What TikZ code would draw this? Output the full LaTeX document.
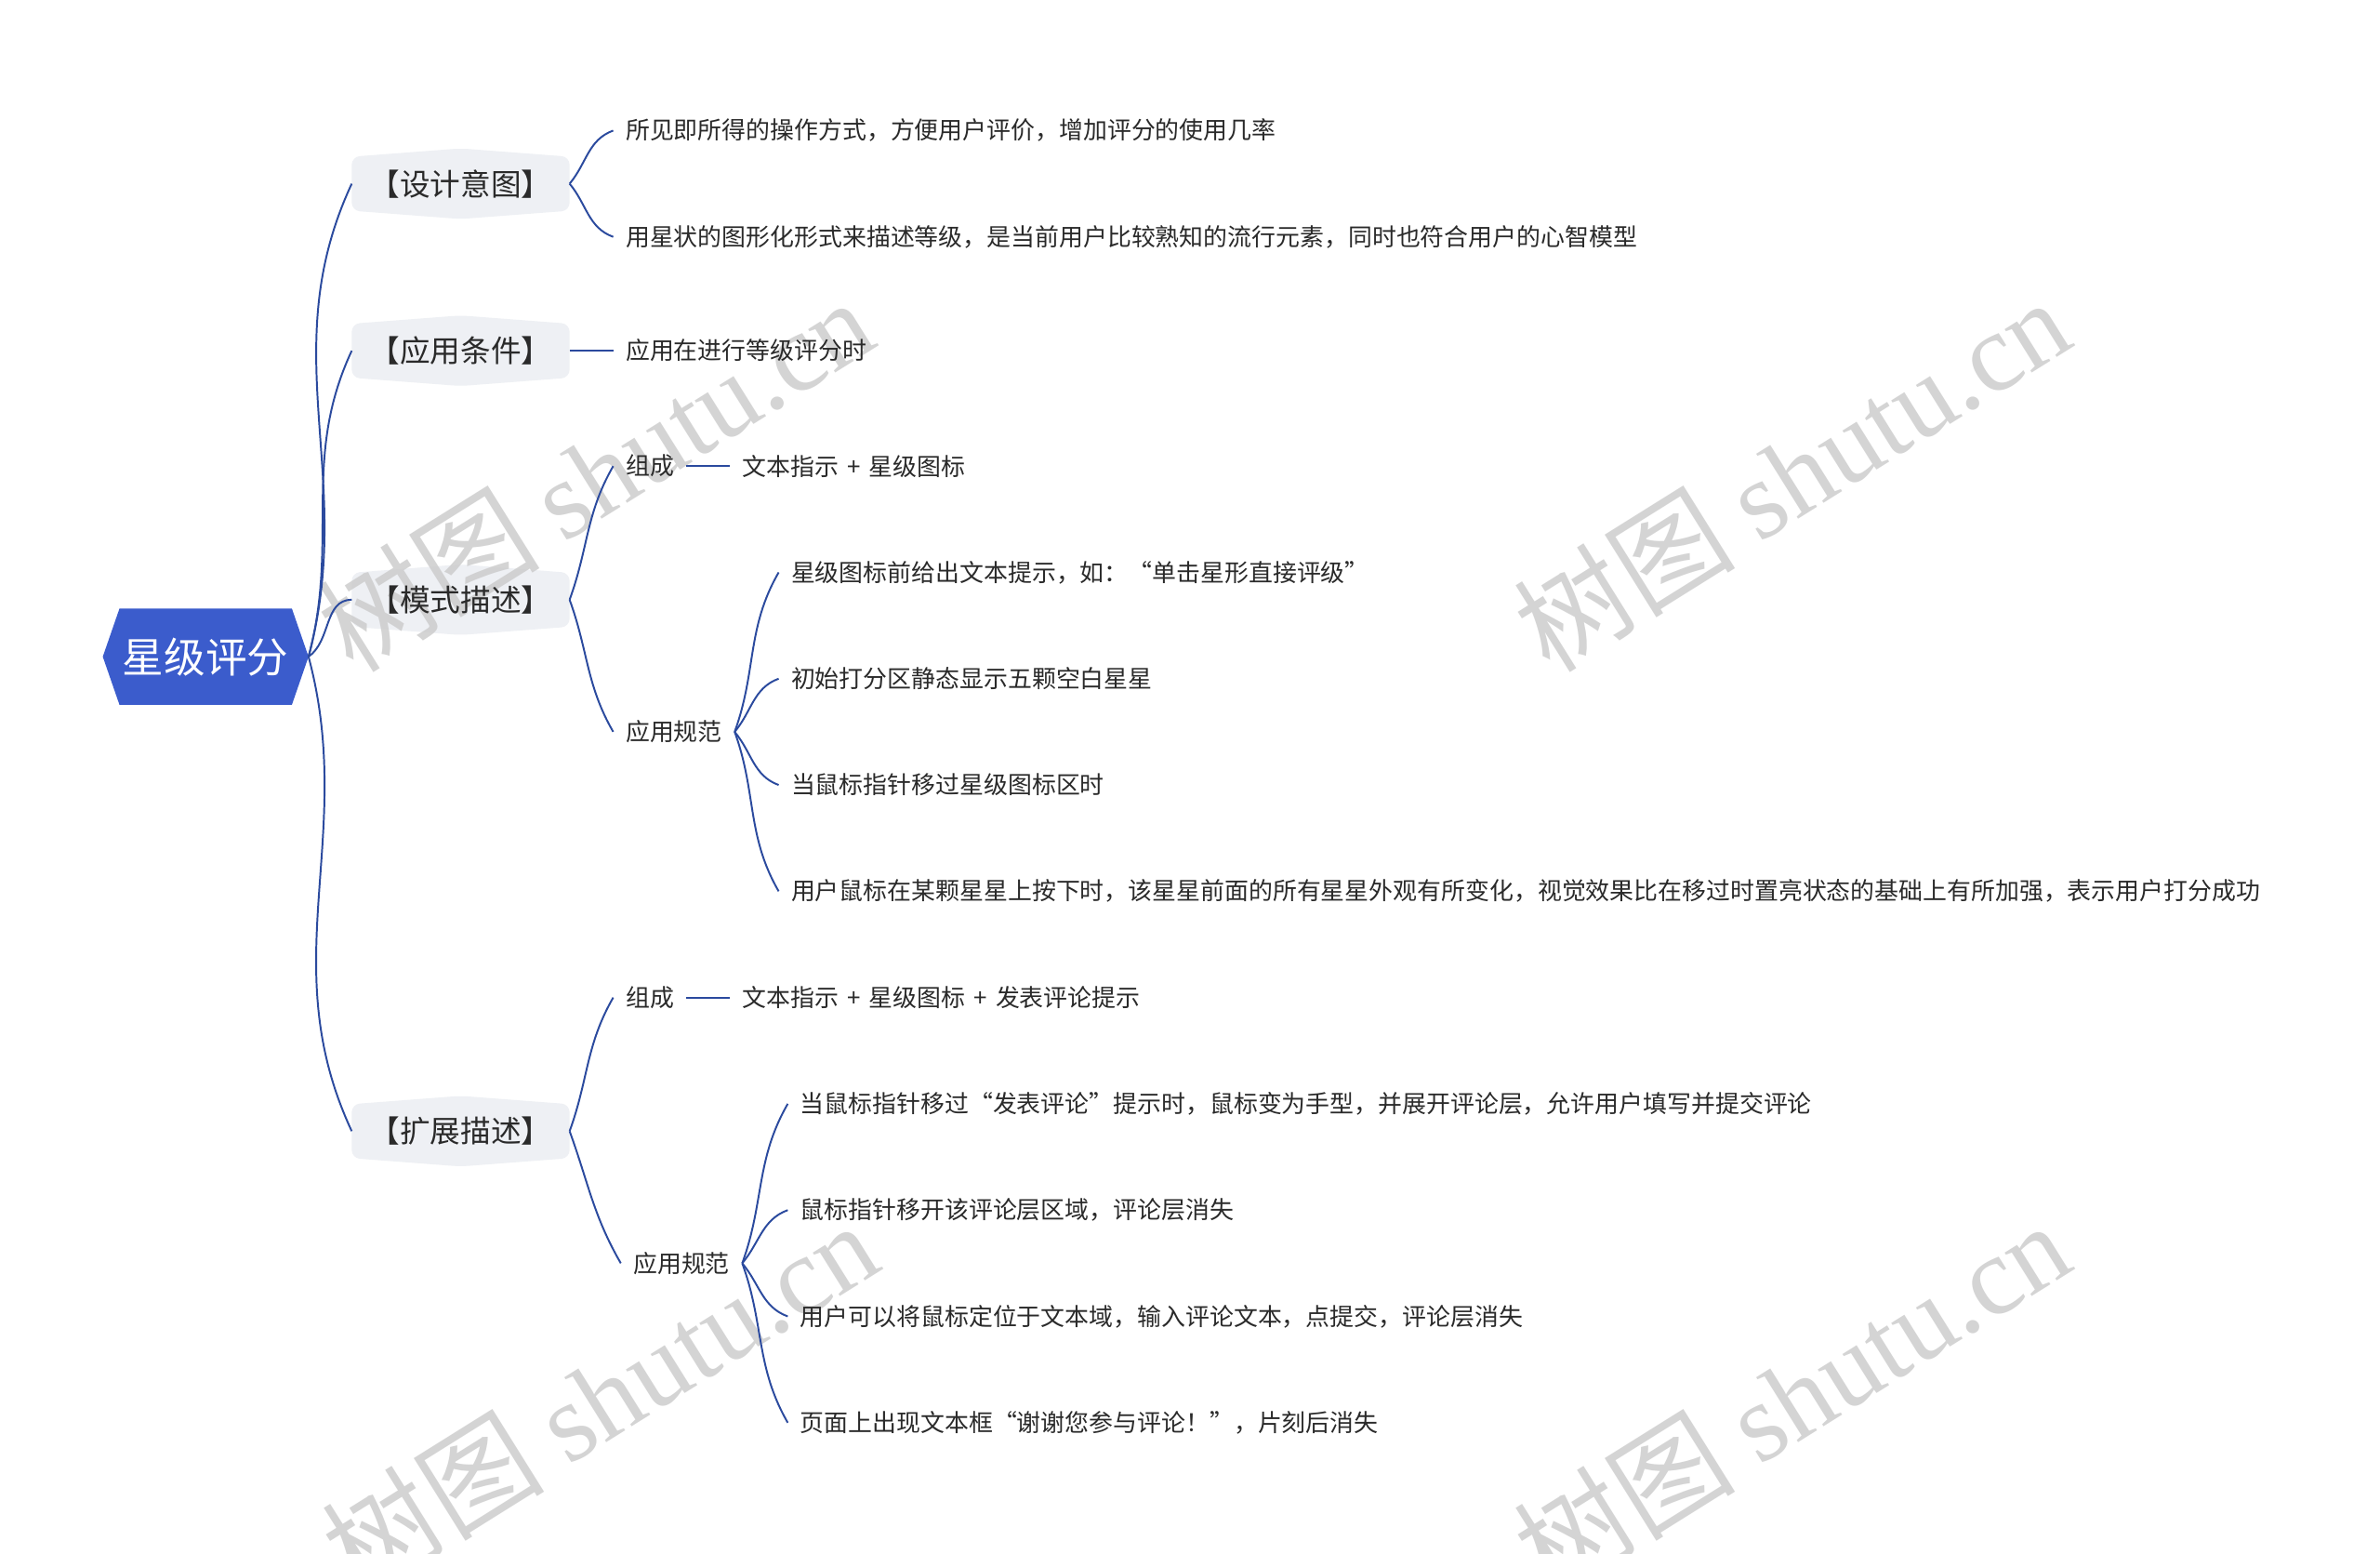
\documentclass[tikz,border=0pt]{standalone}
\usepackage{fontspec}
\setmainfont{Noto Sans CJK SC}
\newfontfamily\wmserif{Liberation Serif}
\newfontfamily\wmcjk{Noto Sans CJK SC}
\usetikzlibrary{backgrounds,calc}
\definecolor{linec}{HTML}{2B4A9E}
\definecolor{rootc}{HTML}{3B5CCC}
\definecolor{lonec}{HTML}{EEF0F4}
\definecolor{txtc}{HTML}{2A2A2A}
\definecolor{wmc}{HTML}{CACACA}
\newcommand\lonebg[1]{%
  \fill[lonec, rounded corners=4pt] (#1.west) -- (#1.north west) -- ([yshift=4.1pt]#1.north) -- (#1.north east) -- (#1.south east) -- ([yshift=-4.1pt]#1.south) -- (#1.south west) -- cycle;}
\newcommand\plus{\hspace{0.35em}+\hspace{0.35em}}
\tikzset{
  leaf/.style={anchor=west, inner xsep=6pt, inner ysep=2pt, font=\fontsize{11.9}{14}\selectfont, text=txtc},
  lone/.style={minimum width=107.25pt, minimum height=26.25pt, inner sep=0pt, font=\fontsize{15}{18}\selectfont, text=txtc},
  rootn/.style={minimum width=101.25pt, minimum height=47.25pt, inner sep=0pt, font=\fontsize{20.5}{24}\selectfont, text=white},
  conn/.style={draw=linec, line width=0.9pt},
  longup/.style={out=75, in=-115},
  longdn/.style={out=-75, in=115},
  midup/.style={out=70, in=-120},
  middn/.style={out=-70, in=120},
  shortup/.style={out=50, in=-160},
  shortdn/.style={out=-50, in=160},
  wm/.style={text=wmc, opacity=0.8, rotate=32, font=\fontsize{55}{57}\selectfont, inner sep=0pt}
}
\begin{document}
\begin{tikzpicture}[x=0.75pt,y=0.75pt]
\useasboundingbox (0,0) rectangle (1568,-1023.4);

% root
\node[rootn] (r) at (135.5,-432.5) {星级评分};

% level 1
\node[lone] (d1) at (303.5,-121) {【设计意图】};
\node[lone] (d2) at (303.5,-231) {【应用条件】};
\node[lone] (d3) at (303.5,-395) {【模式描述】};
\node[lone] (d4) at (303.5,-745) {【扩展描述】};

% leaves of d1, d2
\node[leaf] (a1) at (404,-86) {所见即所得的操作方式，方便用户评价，增加评分的使用几率};
\node[leaf] (a2) at (404,-156) {用星状的图形化形式来描述等级，是当前用户比较熟知的流行元素，同时也符合用户的心智模型};
\node[leaf] (b1) at (404,-231) {应用在进行等级评分时};

% d3
\node[leaf] (m1) at (404,-307) {组成};
\node[leaf] (m1a) at (481,-307) {文本指示\plus 星级图标};
\node[leaf] (m2) at (404,-482) {应用规范};
\node[leaf] (m21) at (513,-377) {星级图标前给出文本提示，如：“单击星形直接评级”};
\node[leaf] (m22) at (513,-447) {初始打分区静态显示五颗空白星星};
\node[leaf] (m23) at (513,-517) {当鼠标指针移过星级图标区时};
\node[leaf] (m24) at (513,-587) {用户鼠标在某颗星星上按下时，该星星前面的所有星星外观有所变化，视觉效果比在移过时置亮状态的基础上有所加强，表示用户打分成功};

% d4
\node[leaf] (e1) at (404,-657) {组成};
\node[leaf] (e1a) at (481,-657) {文本指示\plus 星级图标\plus 发表评论提示};
\node[leaf] (e2) at (409,-832) {应用规范};
\node[leaf] (e21) at (519,-727) {当鼠标指针移过“发表评论”提示时，鼠标变为手型，并展开评论层，允许用户填写并提交评论};
\node[leaf] (e22) at (519,-797) {鼠标指针移开该评论层区域，评论层消失};
\node[leaf] (e23) at (519,-867) {用户可以将鼠标定位于文本域，输入评论文本，点提交，评论层消失};
\node[leaf] (e24) at (519,-937) {页面上出现文本框“谢谢您参与评论！”，片刻后消失};

\begin{scope}[on background layer]
  \fill[white] (0,0) rectangle (1568,-1023.4);
  \fill[rootc] (r.west) -- ([xshift=8.25pt]r.north west) -- ([xshift=-8.25pt]r.north east) -- (r.east) -- ([xshift=-8.25pt]r.south east) -- ([xshift=8.25pt]r.south west) -- cycle;
  \lonebg{d1}
  \lonebg{d2}
  \lonebg{d3}
  \lonebg{d4}
  % watermarks (behind the texts, over the boxes)
  \node[wm] (w1) at (392,-312) {{\wmcjk 树图} {\wmserif shutu.cn}};
  \node[wm] (w2) at (1180,-312) {{\wmcjk 树图} {\wmserif shutu.cn}};
  \node[wm] (w3) at (395,-920) {{\wmcjk 树图} {\wmserif shutu.cn}};
  \node[wm] (w4) at (1180,-920) {{\wmcjk 树图} {\wmserif shutu.cn}};
\end{scope}

% connectors from root
\draw[conn] (r.east) to[longup] (d1.west);
\draw[conn] (r.east) to[longup] (d2.west);
\draw[conn] (r.east) to[out=35, in=180] (d3.west);
\draw[conn] (r.east) to[longdn] (d4.west);

% d1, d2
\draw[conn] (d1.east) to[shortup] (a1.west);
\draw[conn] (d1.east) to[shortdn] (a2.west);
\draw[conn] (d2.east) -- (b1.west);

% d3
\draw[conn] (d3.east) to[midup] (m1.west);
\draw[conn] (d3.east) to[middn] (m2.west);
\draw[conn] (m1.east) -- (m1a.west);
\draw[conn] (m2.east) to[midup] (m21.west);
\draw[conn] (m2.east) to[shortup] (m22.west);
\draw[conn] (m2.east) to[shortdn] (m23.west);
\draw[conn] (m2.east) to[middn] (m24.west);

% d4
\draw[conn] (d4.east) to[midup] (e1.west);
\draw[conn] (d4.east) to[middn] (e2.west);
\draw[conn] (e1.east) -- (e1a.west);
\draw[conn] (e2.east) to[midup] (e21.west);
\draw[conn] (e2.east) to[shortup] (e22.west);
\draw[conn] (e2.east) to[shortdn] (e23.west);
\draw[conn] (e2.east) to[middn] (e24.west);
\end{tikzpicture}
\end{document}
